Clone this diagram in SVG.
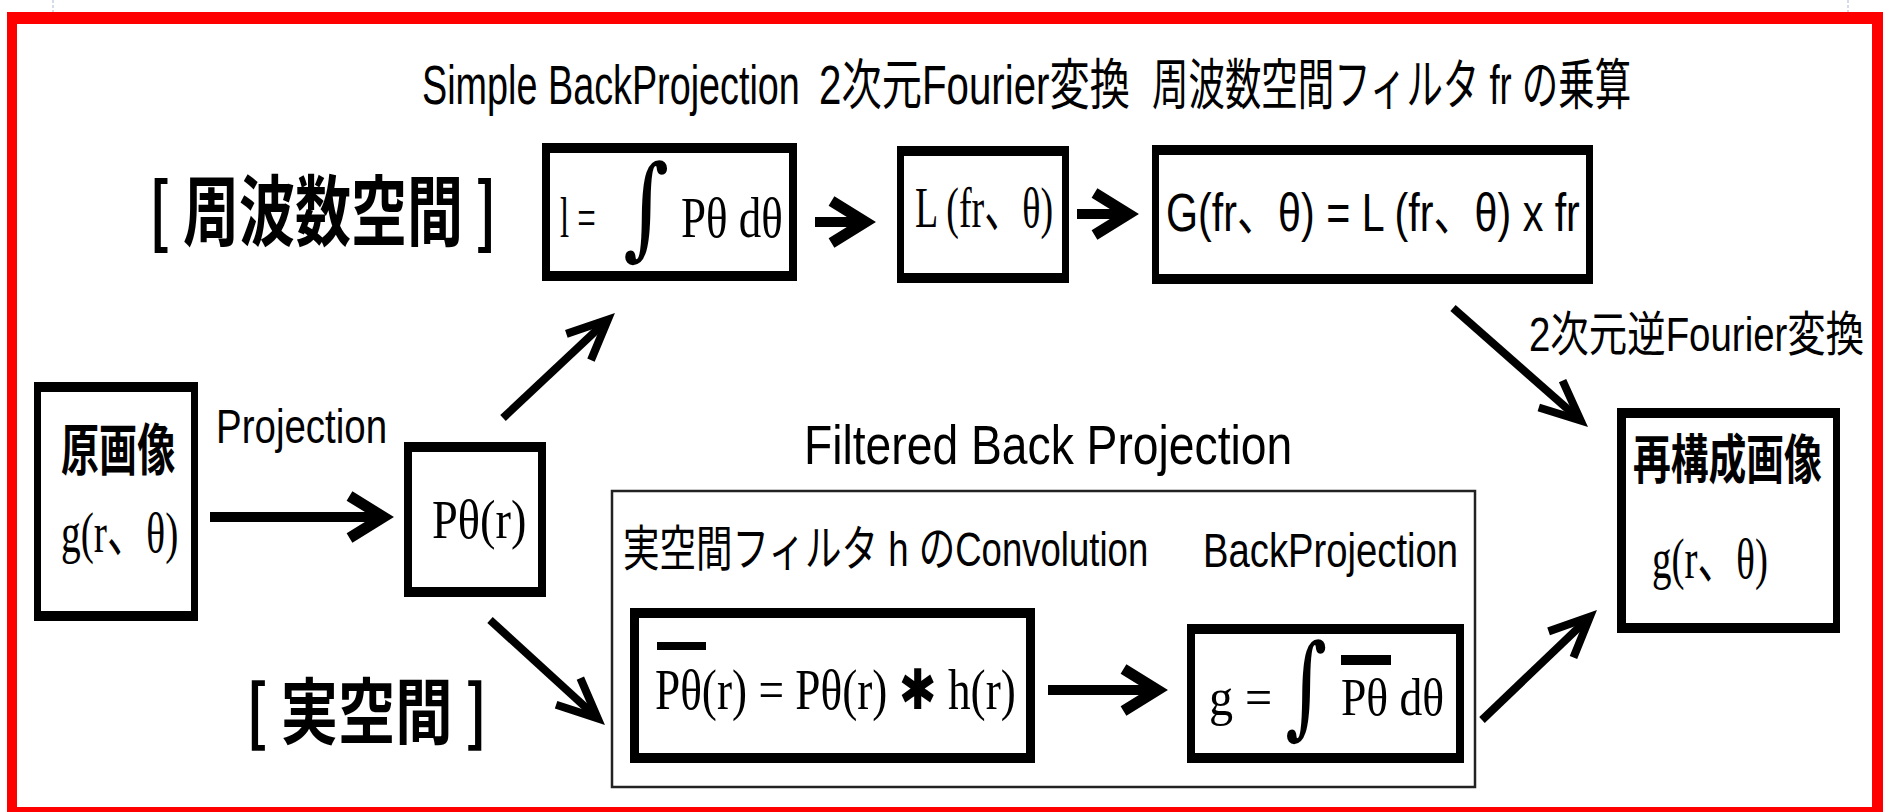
<svg xmlns="http://www.w3.org/2000/svg" width="1883" height="812" viewBox="0 0 1883 812">
<defs>
<style>
.sans{font-family:"Liberation Sans","Noto Sans CJK JP",sans-serif;fill:#000}
.serif{font-family:"Liberation Serif","Noto Sans CJK JP",serif;fill:#000}
.cjk{font-family:"Noto Sans CJK JP","Liberation Sans",sans-serif;fill:#000}
.bold{font-weight:700}
.int{font-family:"DejaVu Serif",serif;fill:#000}
.frame{fill:#000;fill-rule:evenodd}
.thick{fill:none;stroke:#000;stroke-width:10}
.thin{fill:none;stroke:#000;stroke-width:8}
.red{fill:#ff0000}
</style>
<marker id="headH" markerUnits="userSpaceOnUse" markerWidth="80" markerHeight="80" viewBox="-50 -40 80 80" refX="-1.5" refY="0" orient="auto" overflow="visible">
<path d="M-34,-21 L0,0 L-34,21" fill="none" stroke="#000" stroke-width="11" stroke-linejoin="miter"/>
</marker>
<marker id="headD" markerUnits="userSpaceOnUse" markerWidth="80" markerHeight="80" viewBox="-50 -40 80 80" refX="-2.25" refY="0" orient="auto" overflow="visible">
<path d="M-40,-18 L0,0 L-40,18" fill="none" stroke="#000" stroke-width="8" stroke-linejoin="miter"/>
</marker>
</defs>
<rect x="0" y="0" width="1883" height="812" fill="#fff"/>
<line x1="53" y1="0" x2="53" y2="12" stroke="#d5dbe8" stroke-width="2" stroke-dasharray="3 2"/>
<line x1="1848" y1="0" x2="1848" y2="12" stroke="#d5dbe8" stroke-width="2" stroke-dasharray="3 2"/>
<g id="red-frame">
<rect class="red" x="7" y="12" width="1876" height="12"/>
<rect class="red" x="7" y="12" width="10" height="800"/>
<rect class="red" x="1872" y="12" width="11" height="800"/>
<rect class="red" x="7" y="807" width="1876" height="5"/>
</g>
<g id="labels">
<text class="sans" transform="translate(422,104) scale(0.687,1)" font-size="55" textLength="550" lengthAdjust="spacingAndGlyphs">Simple BackProjection</text>
<text class="sans" transform="translate(819,104) scale(0.73,1)" font-size="55" textLength="426" lengthAdjust="spacingAndGlyphs">2次元Fourier変換</text>
<text class="sans" transform="translate(1152,104) scale(0.66,1)" font-size="55" textLength="726" lengthAdjust="spacingAndGlyphs">周波数空間フィルタ fr の乗算</text>
<text class="cjk bold" transform="translate(149,240) scale(0.74,1)" font-size="77" textLength="470" lengthAdjust="spacingAndGlyphs">[ 周波数空間 ]</text>
<text class="cjk bold" transform="translate(246,738) scale(0.82,1)" font-size="72" textLength="294" lengthAdjust="spacingAndGlyphs">[ 実空間 ]</text>
<text class="sans" transform="translate(216,443) scale(0.785,1)" font-size="49" textLength="218" lengthAdjust="spacingAndGlyphs">Projection</text>
<text class="sans" transform="translate(1529,351) scale(0.8,1)" font-size="48" textLength="419" lengthAdjust="spacingAndGlyphs">2次元逆Fourier変換</text>
</g>
<g id="node-original">
<path class="frame" d="M34 382H198V621H34Z M41 392V611H191V392Z"/>
<text class="cjk bold" transform="translate(61,470) scale(0.68,1)" font-size="56" textLength="168" lengthAdjust="spacingAndGlyphs">原画像</text>
<text class="serif" transform="translate(61,552) scale(0.67,1)" font-size="58" textLength="175" lengthAdjust="spacingAndGlyphs">g(r、θ)</text>
</g>
<g id="node-ptheta">
<path class="frame" d="M404 442H546V597H404Z M412 452V587H538V452Z"/>
<text class="serif" transform="translate(432,538) scale(0.85,1)" font-size="54" textLength="111" lengthAdjust="spacingAndGlyphs">Pθ(r)</text>
</g>
<g id="node-sbp">
<path class="frame" d="M542 143H797V281H542Z M550 153V271H789V153Z"/>
<text class="serif" transform="translate(560,237) scale(0.57,1)" font-size="58" textLength="63" lengthAdjust="spacingAndGlyphs">l =</text>
<text class="int" x="623" y="245" font-size="112" textLength="46" lengthAdjust="spacingAndGlyphs">∫</text>
<text class="serif" transform="translate(681,237) scale(0.76,1)" font-size="58" textLength="134" lengthAdjust="spacingAndGlyphs">Pθ dθ</text>
</g>
<g id="node-fourier">
<path class="frame" d="M897 146H1069V283H897Z M904 156V273H1062V156Z"/>
<text class="serif" transform="translate(915,227) scale(0.645,1)" font-size="58" textLength="214" lengthAdjust="spacingAndGlyphs">L (fr、θ)</text>
</g>
<g id="node-filter">
<path class="frame" d="M1152 145H1593V284H1152Z M1159 155V274H1586V155Z"/>
<text class="sans" transform="translate(1166,231) scale(0.775,1)" font-size="53" textLength="534" lengthAdjust="spacingAndGlyphs">G(fr、θ) = L (fr、θ) x fr</text>
</g>
<g id="node-reconstructed">
<path class="frame" d="M1617 408H1840V633H1617Z M1626 418V623H1833V418Z"/>
<text class="cjk bold" transform="translate(1633,479) scale(0.71,1)" font-size="53" textLength="266" lengthAdjust="spacingAndGlyphs">再構成画像</text>
<text class="serif" transform="translate(1652,578) scale(0.69,1)" font-size="56" textLength="168" lengthAdjust="spacingAndGlyphs">g(r、θ)</text>
</g>
<g id="node-fbp">
<rect x="612" y="491" width="863" height="296" fill="none" stroke="#222" stroke-width="2.5"/>
<text class="sans" transform="translate(804,464) scale(0.826,1)" font-size="56" textLength="591" lengthAdjust="spacingAndGlyphs">Filtered Back Projection</text>
<text class="sans" transform="translate(623,566) scale(0.745,1)" font-size="49" textLength="705" lengthAdjust="spacingAndGlyphs">実空間フィルタ h のConvolution</text>
<text class="sans" transform="translate(1203,567) scale(0.78,1)" font-size="49" textLength="327" lengthAdjust="spacingAndGlyphs">BackProjection</text>
</g>
<g id="node-convolution">
<path class="frame" d="M630 608H1035V763H630Z M639 618V753H1026V618Z"/>
<rect x="657" y="642" width="49" height="8" fill="#000"/>
<text class="serif" transform="translate(655,709) scale(0.8,1)" font-size="56" textLength="451" lengthAdjust="spacingAndGlyphs">Pθ(r) = Pθ(r) <tspan font-family="DejaVu Sans" font-weight="bold">✱</tspan> h(r)</text>
</g>
<g id="node-backprojection">
<path class="frame" d="M1187 624H1464V763H1187Z M1195 634V753H1456V634Z"/>
<text class="serif" transform="translate(1209,715) scale(0.93,1)" font-size="52" textLength="68" lengthAdjust="spacingAndGlyphs">g =</text>
<text class="int" x="1285" y="724" font-size="112" textLength="42" lengthAdjust="spacingAndGlyphs">∫</text>
<rect x="1341" y="655" width="50" height="10" fill="#000"/>
<text class="serif" transform="translate(1341,715) scale(0.86,1)" font-size="52" textLength="120" lengthAdjust="spacingAndGlyphs">Pθ dθ</text>
</g>
<g id="connectors">
<line class="thick" x1="210" y1="517" x2="382" y2="517" marker-end="url(#headH)"/>
<line class="thick" x1="815" y1="222" x2="864" y2="222" marker-end="url(#headH)"/>
<line class="thick" x1="1077" y1="214" x2="1127" y2="214" marker-end="url(#headH)"/>
<line class="thick" x1="1048" y1="690" x2="1156" y2="690" marker-end="url(#headH)"/>
<line class="thin" x1="503" y1="418" x2="606.2" y2="321.2" marker-end="url(#headD)"/>
<line class="thin" x1="490" y1="620" x2="596.1" y2="716.9" marker-end="url(#headD)"/>
<line class="thin" x1="1453" y1="308" x2="1579" y2="419" marker-end="url(#headD)"/>
<line class="thin" x1="1482" y1="720" x2="1588.3" y2="618.3" marker-end="url(#headD)"/>
</g>
</svg>
